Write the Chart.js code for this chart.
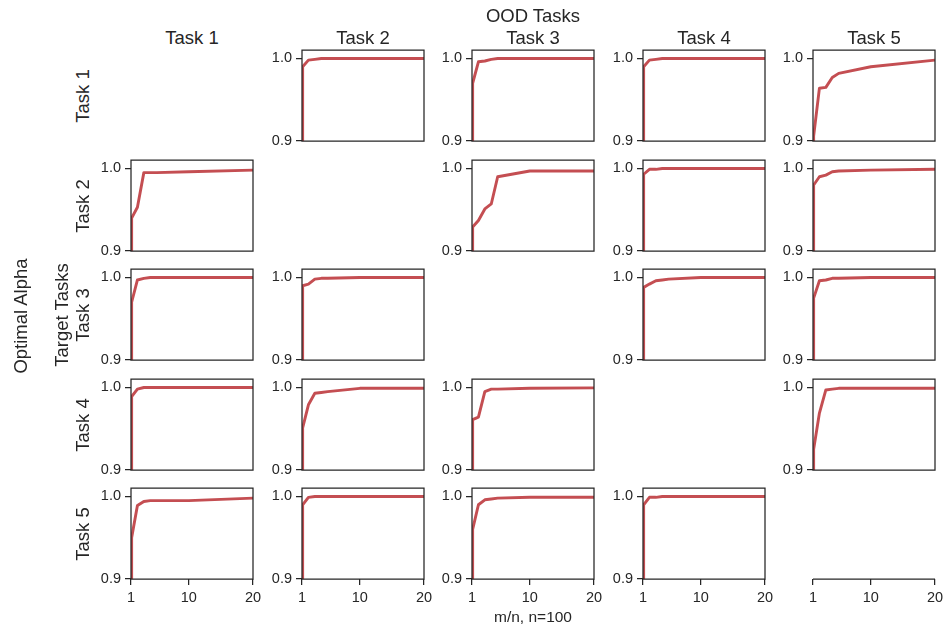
<!DOCTYPE html>
<html>
<head>
<meta charset="utf-8">
<script src="https://cdn.jsdelivr.net/npm/chart.js@4"></script>
<style>
  body { margin: 0; background: #fff; }
  #fig { position: relative; width: 947px; height: 625px; overflow: hidden;
         font-family: "Liberation Sans", Arial, sans-serif; color: #262626; }
  #fig canvas { position: absolute; }
  .lbl { position: absolute; white-space: nowrap; transform: translate(-50%, -50%); }
  .rot { transform: translate(-50%, -50%) rotate(-90deg); text-align: center; line-height: 1.15; }
</style>
</head>
<body>
<div id="fig"></div>
<script>
//data
const taskNames = ["Task 1", "Task 2", "Task 3", "Task 4", "Task 5"];
const mRatio = [1, 1.1, 2, 3, 4, 5, 10, 20];
const xTicks = [1, 10, 20];
const yTicks = [0.9, 1.0];

// optimal alpha, one row per target task, one series per OOD task (null = diagonal)
const target1 = [
  null,
  [0.85, 0.99, 0.998, 0.999, 1.0, 1.0, 1.0, 1.0],
  [0.85, 0.97, 0.996, 0.997, 0.999, 1.0, 1.0, 1.0],
  [0.85, 0.99, 0.998, 0.999, 1.0, 1.0, 1.0, 1.0],
  [0.895, 0.906, 0.964, 0.965, 0.977, 0.982, 0.99, 0.998],
];
const target2 = [
  [0.85, 0.94, 0.953, 0.995, 0.995, 0.995, 0.996, 0.998],
  null,
  [0.85, 0.929, 0.937, 0.951, 0.957, 0.99, 0.997, 0.997],
  [0.85, 0.993, 0.999, 0.999, 1.0, 1.0, 1.0, 1.0],
  [0.85, 0.98, 0.99, 0.992, 0.996, 0.997, 0.998, 0.999],
];
const target3 = [
  [0.85, 0.97, 0.997, 0.999, 1.0, 1.0, 1.0, 1.0],
  [0.85, 0.99, 0.992, 0.998, 0.999, 0.999, 1.0, 1.0],
  null,
  [0.85, 0.988, 0.992, 0.996, 0.997, 0.998, 1.0, 1.0],
  [0.85, 0.975, 0.996, 0.997, 0.999, 0.999, 1.0, 1.0],
];
const target4 = [
  [0.85, 0.989, 0.998, 1.0, 1.0, 1.0, 1.0, 1.0],
  [0.85, 0.951, 0.979, 0.993, 0.994, 0.995, 0.999, 0.999],
  [0.85, 0.961, 0.964, 0.995, 0.998, 0.998, 0.999, 0.9995],
  null,
  [0.88, 0.925, 0.969, 0.997, 0.998, 0.999, 0.999, 0.999],
];
const target5 = [
  [0.85, 0.95, 0.989, 0.994, 0.995, 0.995, 0.995, 0.998],
  [0.85, 0.99, 0.999, 1.0, 1.0, 1.0, 1.0, 1.0],
  [0.85, 0.96, 0.99, 0.996, 0.997, 0.998, 0.999, 0.999],
  [0.85, 0.99, 0.999, 0.999, 1.0, 1.0, 1.0, 1.0],
  null,
];
const allTargets = [target1, target2, target3, target4, target5];

//layout
const colLeft = [131, 302, 472, 643, 813];
const rowTop = [50, 160, 269, 379, 488];
const plotW = 122;
const plotH = 91;
const padL = 44, padT = 12, padR = 14;
const ink = "#262626";
const red = "#c44e52";
const tickSize = 14.5;
const titleSize = 18.5;

Chart.defaults.font.family = '"Liberation Sans", Arial, sans-serif';
Chart.defaults.color = ink;

const fig = document.getElementById("fig");

const boxPlugin = {
  id: "box",
  afterDraw(chart, args, opts) {
    const { ctx, chartArea: a } = chart;
    ctx.save();
    ctx.strokeStyle = ink;
    ctx.lineWidth = 1.25;
    ctx.beginPath();
    if (opts.bottomOnly) {
      ctx.moveTo(a.left, a.bottom);
      ctx.lineTo(a.right, a.bottom);
    } else {
      ctx.rect(a.left, a.top, a.right - a.left, a.bottom - a.top);
    }
    ctx.stroke();
    ctx.restore();
  },
};

function addLabel(text, x, y, size, rotated) {
  const d = document.createElement("div");
  d.className = rotated ? "lbl rot" : "lbl";
  d.style.left = x + "px";
  d.style.top = y + "px";
  d.style.fontSize = size + "px";
  d.innerHTML = text;
  fig.appendChild(d);
}

function drawPanel(r, c, vals) {
  const bottomRow = r === 4;
  const xh = bottomRow ? 32 : 10;
  const cv = document.createElement("canvas");
  const w = padL + plotW + padR;
  const h = padT + plotH + xh;
  cv.width = w;
  cv.height = h;
  cv.style.left = colLeft[c] - padL + "px";
  cv.style.top = rowTop[r] - padT + "px";
  cv.style.width = w + "px";
  cv.style.height = h + "px";
  fig.appendChild(cv);

  const hasData = vals !== null;
  const datasets = hasData
    ? [{
        data: mRatio.map((m, i) => ({ x: m, y: vals[i] })),
        borderColor: red,
        borderWidth: 2.9,
        borderJoinStyle: "round",
        pointRadius: 0,
        tension: 0,
      }]
    : [];

  new Chart(cv, {
    type: "line",
    data: { datasets: datasets },
    plugins: [boxPlugin],
    options: {
      responsive: false,
      animation: false,
      devicePixelRatio: 1,
      layout: { padding: { left: 0, top: padT, right: padR, bottom: 0 } },
      plugins: {
        legend: { display: false },
        tooltip: { enabled: false },
        box: { bottomOnly: !hasData },
      },
      scales: {
        x: {
          type: "linear",
          min: 1,
          max: 20,
          border: { display: false },
          grid: {
            display: bottomRow,
            drawOnChartArea: false,
            drawTicks: bottomRow,
            tickLength: 6,
            color: ink,
            lineWidth: 1.25,
          },
          ticks: { display: bottomRow, padding: 4, maxRotation: 0, font: { size: tickSize } },
          afterBuildTicks: (s) => { s.ticks = xTicks.map((v) => ({ value: v })); },
          afterFit: (s) => { s.height = xh; s.paddingLeft = 0; s.paddingRight = 0; },
        },
        y: {
          type: "linear",
          min: 0.9,
          max: 1.0103,
          border: { display: false },
          grid: {
            display: hasData,
            drawOnChartArea: false,
            drawTicks: hasData,
            tickLength: 6,
            color: ink,
            lineWidth: 1.25,
          },
          ticks: {
            display: hasData,
            padding: 4,
            font: { size: tickSize },
            callback: (v) => Number(v).toFixed(1),
          },
          afterBuildTicks: (s) => { s.ticks = yTicks.map((v) => ({ value: v })); },
          afterFit: (s) => { s.width = padL; s.paddingTop = 0; s.paddingBottom = 0; },
        },
      },
    },
  });
}

for (let r = 0; r < 5; r++) {
  for (let c = 0; c < 5; c++) {
    const vals = allTargets[r][c];
    if (vals === null && r !== 4) continue;
    drawPanel(r, c, vals);
  }
}

//labels
for (let c = 0; c < 5; c++) {
  addLabel(taskNames[c], colLeft[c] + plotW / 2, 38, titleSize, false);
}
addLabel("OOD Tasks", colLeft[2] + plotW / 2, 16, titleSize, false);
for (let r = 0; r < 5; r++) {
  if (r === 2) {
    addLabel("Target Tasks<br>" + taskNames[r], 72, rowTop[r] + plotH / 2, titleSize, true);
  } else {
    addLabel(taskNames[r], 83, rowTop[r] + plotH / 2, titleSize, true);
  }
}
addLabel("Optimal Alpha", 21, 316, titleSize, true);
addLabel("m/n, n=100", colLeft[2] + plotW / 2, 617, 15.5, false);
</script>
</body>
</html>
